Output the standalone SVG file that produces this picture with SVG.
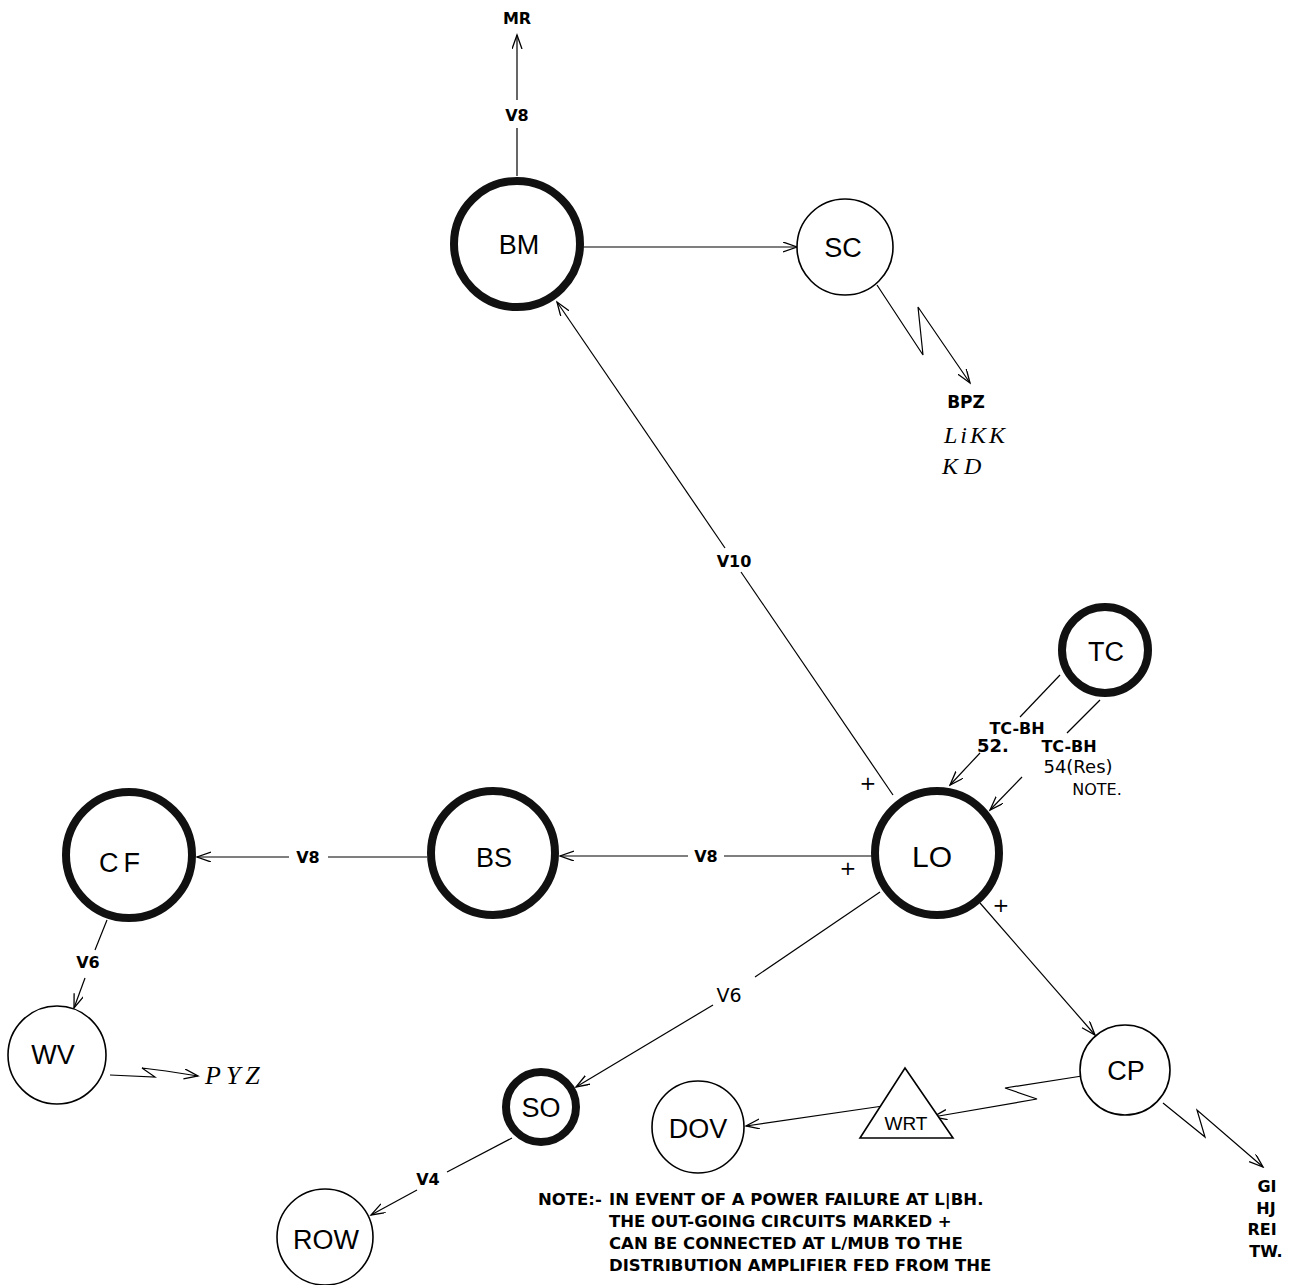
<svg xmlns="http://www.w3.org/2000/svg" width="1300" height="1285" viewBox="0 0 1300 1285">
<defs>
<marker id="arr" markerWidth="16" markerHeight="12" refX="14" refY="5" orient="auto" markerUnits="userSpaceOnUse">
<path d="M0,0 L14,5 L0,10" fill="none" stroke="#000" stroke-width="1.3"/>
</marker>
<style>
.thick{fill:#fff;stroke:#111;stroke-width:8}
.thin{fill:#fff;stroke:#000;stroke-width:1.6}
.lbl{font-family:"Liberation Sans","DejaVu Sans",sans-serif;font-size:27px;fill:#000;text-anchor:middle}
.sm{font-family:"DejaVu Sans","Liberation Sans",sans-serif;font-size:16px;font-weight:bold;fill:#000;text-anchor:middle}
.hand{font-family:"Liberation Serif","DejaVu Serif",serif;font-style:italic;font-size:24px;fill:#000;letter-spacing:3px}
.note{font-family:"DejaVu Sans","Liberation Sans",sans-serif;font-size:16.5px;font-weight:bold;fill:#000}
.ln{fill:none;stroke:#000;stroke-width:1.2}
</style>
</defs>
<rect width="1300" height="1285" fill="#fff"/>
<g id="connectors">
<path class="ln" d="M517,176 L517,128"/>
<path class="ln" d="M517,100 L517,35" marker-end="url(#arr)"/>
<path class="ln" d="M583,247 L797,247" marker-end="url(#arr)"/>
<path class="ln" d="M877,285 L923,355 L918,307 L970,383" marker-end="url(#arr)"/>
<path class="ln" d="M893,795 L741,572"/>
<path class="ln" d="M725,548 L557,302" marker-end="url(#arr)"/>
<path class="ln" d="M1060,675 L1020,717"/>
<path class="ln" d="M980,753 L950,785" marker-end="url(#arr)"/>
<path class="ln" d="M1100,700 L1067,733"/>
<path class="ln" d="M1022,777 L990,810" marker-end="url(#arr)"/>
<path class="ln" d="M872,856 L724,856"/>
<path class="ln" d="M688,856 L560,856" marker-end="url(#arr)"/>
<path class="ln" d="M427,857 L328,857"/>
<path class="ln" d="M289,857 L197,857" marker-end="url(#arr)"/>
<path class="ln" d="M107,920 L95,950"/>
<path class="ln" d="M85,978 L74,1008" marker-end="url(#arr)"/>
<path class="ln" d="M110,1075 L155,1077 L142,1068 L166,1071 L198,1076" marker-end="url(#arr)"/>
<path class="ln" d="M880,892 L755,977"/>
<path class="ln" d="M713,1005 L576,1087" marker-end="url(#arr)"/>
<path class="ln" d="M980,903 L1095,1035" marker-end="url(#arr)"/>
<path class="ln" d="M1082,1076 L1005,1088 L1037,1099 L933,1117" marker-end="url(#arr)"/>
<path class="ln" d="M883,1106 L746,1126" marker-end="url(#arr)"/>
<path class="ln" d="M1163,1103 L1205,1137 L1197,1110 L1263,1167" marker-end="url(#arr)"/>
<path class="ln" d="M512,1138 L447,1172"/>
<path class="ln" d="M417,1190 L371,1215" marker-end="url(#arr)"/>
</g>
<g id="edge-labels">
<text class="sm" x="517" y="24">MR</text>
<text class="sm" x="517" y="121">V8</text>
<text class="sm" x="734" y="567">V10</text>
<text class="sm" x="706" y="862">V8</text>
<text class="sm" x="308" y="863">V8</text>
<text class="sm" x="88" y="968">V6</text>
<text class="sm" x="729" y="1002" style="font-weight:normal;font-size:19px">V6</text>
<text class="sm" x="428" y="1185">V4</text>
<text class="sm" x="1017" y="734">TC-BH</text>
<text class="sm" x="993" y="752" style="font-size:18px">52.</text>
<text class="sm" x="1069" y="752">TC-BH</text>
<text class="sm" x="1078" y="773" style="font-size:18px;font-weight:normal">54(Res)</text>
<text class="sm" x="1097" y="795" style="font-weight:normal">NOTE.</text>
<text class="sm" x="868" y="790" style="font-size:20px;font-weight:normal">+</text>
<text class="sm" x="848" y="875" style="font-size:20px;font-weight:normal">+</text>
<text class="sm" x="1001" y="912" style="font-size:20px;font-weight:normal">+</text>
<text class="sm" x="966" y="408" style="font-size:17px">BPZ</text>
<text class="hand" x="944" y="443">LiKK</text>
<text class="hand" x="942" y="474" style="letter-spacing:6px">KD</text>
<text class="hand" x="205" y="1084" style="font-size:26px;letter-spacing:5px">PYZ</text>
<text class="sm" x="1267" y="1192">GI</text>
<text class="sm" x="1266" y="1214">HJ</text>
<text class="sm" x="1262" y="1235">REI</text>
<text class="sm" x="1266" y="1257">TW.</text>
</g>
<g id="node-BM"><circle class="thick" cx="517" cy="244" r="63"/><text class="lbl" x="519" y="254">BM</text></g>
<g id="node-SC"><circle class="thin" cx="845" cy="247" r="48"/><text class="lbl" x="843" y="257">SC</text></g>
<g id="node-TC"><circle class="thick" cx="1105" cy="650" r="43"/><text class="lbl" x="1106" y="661">TC</text></g>
<g id="node-LO"><circle class="thick" cx="937" cy="853" r="62"/><text class="lbl" x="932" y="867" style="font-size:30px">LO</text></g>
<g id="node-BS"><circle class="thick" cx="493" cy="853" r="62"/><text class="lbl" x="494" y="867">BS</text></g>
<g id="node-CF"><circle class="thick" cx="129" cy="855" r="63"/><text class="lbl" x="122" y="872" style="letter-spacing:5px">CF</text></g>
<g id="node-WV"><circle class="thin" cx="57" cy="1055" r="49"/><text class="lbl" x="53" y="1064">WV</text></g>
<g id="node-SO"><circle class="thick" cx="541" cy="1107" r="35"/><text class="lbl" x="541" y="1117">SO</text></g>
<g id="node-ROW"><circle class="thin" cx="325" cy="1237" r="48"/><text class="lbl" x="326" y="1249">ROW</text></g>
<g id="node-DOV"><circle class="thin" cx="698" cy="1127" r="46"/><text class="lbl" x="698" y="1138">DOV</text></g>
<g id="node-CP"><circle class="thin" cx="1125" cy="1070" r="45"/><text class="lbl" x="1126" y="1080">CP</text></g>
<g id="node-WRT"><polygon points="905,1068 953,1138 860,1138" fill="#fff" stroke="#000" stroke-width="1.6"/><text class="lbl" x="906" y="1130" style="font-size:19px">WRT</text></g>
<g id="note">
<text class="note" x="538" y="1205">NOTE:-</text>
<text class="note" x="609" y="1205">IN EVENT OF A POWER FAILURE AT L|BH.</text>
<text class="note" x="609" y="1227">THE OUT-GOING CIRCUITS MARKED +</text>
<text class="note" x="609" y="1249">CAN BE CONNECTED AT L/MUB TO THE</text>
<text class="note" x="609" y="1271">DISTRIBUTION AMPLIFIER FED FROM THE</text>
</g>
</svg>
